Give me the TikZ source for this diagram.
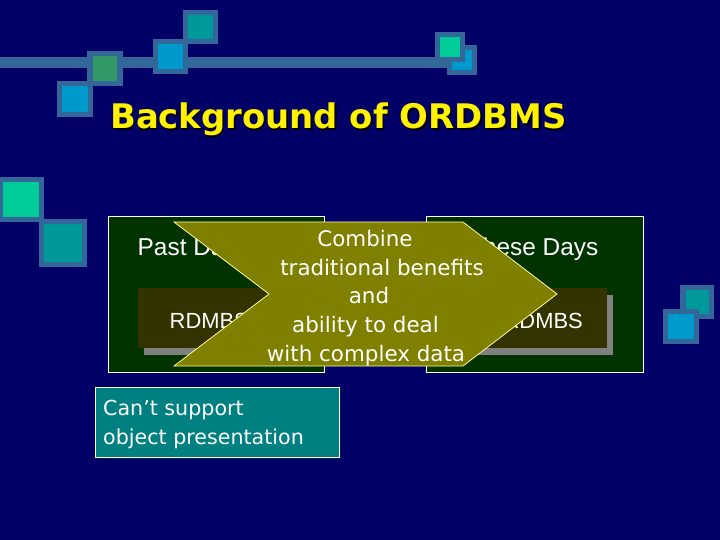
\documentclass[tikz,border=0pt]{standalone}
\usepackage{fontspec}
\setmainfont{Liberation Sans}
\newfontfamily\thinfont{DejaVu Sans}
\usepackage{tikz}
\usetikzlibrary{calc}

\definecolor{slidebg}{HTML}{000066}
\definecolor{framecol}{HTML}{336699}
\definecolor{teal1}{HTML}{009999}
\definecolor{sky1}{HTML}{0099CC}
\definecolor{leaf1}{HTML}{339966}
\definecolor{mint1}{HTML}{00CC99}
\definecolor{panelgreen}{HTML}{003300}
\definecolor{innerbrown}{HTML}{333300}
\definecolor{shadowgray}{HTML}{808080}
\definecolor{olive1}{HTML}{808000}
\definecolor{notecol}{HTML}{008080}
\definecolor{notedark}{HTML}{00254D}

\tikzset{
    panel/.style={draw=white, line width=0.8pt, fill=panelgreen},
    tag/.style={text=white, inner sep=0, font=\fontsize{22}{26}\selectfont},
    paneltag/.style={tag, font=\fontsize{24.5}{29}\selectfont},
    arrowtext/.style={text=white, inner sep=0, anchor=base, font=\thinfont\fontsize{21.5}{26}\selectfont},
    notetext/.style={text=white, inner sep=0, anchor=base west, font=\thinfont\fontsize{20.7}{25}\selectfont},
    headline/.style={inner sep=0, anchor=base west, font=\thinfont\bfseries\fontsize{34}{40}\selectfont}
}

\begin{document}
\begin{tikzpicture}[x=1bp, y=-1bp]
            \def\frameline{5.5}

            \useasboundingbox (0,0) rectangle (720,540);
            \fill[slidebg] (0,0) rectangle (720,540);

            % bar behind the squares
            \fill[framecol] (0,57) rectangle (447,68);

            % draw squares
            \foreach \cx/\cy/\s/\col in {200.5/27/35/teal1, 170.5/56.5/35/sky1, 105/68.5/35.5/leaf1, 75/99/36/sky1,
                                         462/60/30/sky1, 450/47/30/mint1, 21/199.5/46/mint1, 63/243/48/teal1,
                                         697/302/34/teal1, 681/326.5/36/sky1}
            {
                \draw[framecol, line width=\frameline pt, fill=\col]
                    (\cx-\s/2+\frameline/2, \cy-\s/2+\frameline/2) rectangle (\cx+\s/2-\frameline/2, \cy+\s/2-\frameline/2);
            }

            % title
            \node[headline, text=black] (titleshadow) at (111.5,130.5) {Background of ORDBMS};
            \node[headline, text=yellow] (title) at (110,129) {Background of ORDBMS};

            % panels
            \draw[panel] (108,216) rectangle (324,372);
            \draw[panel] (426,216) rectangle (643,372);

            \foreach \x in {138,437}
            {
                \fill[shadowgray] (\x+6,295) rectangle (\x+176,355);
                \fill[innerbrown] (\x,288) rectangle (\x+170,348);
            }

            \node[paneltag, anchor=base west] (past) at (137.5,256) {Past Days};
            \node[paneltag, anchor=base east] (these) at (598.5,256) {These Days};
            \node[tag, anchor=base west] (rdbms) at (169.5,328) {RDMBS};
            \node[tag, anchor=base east] (ordbms) at (583,328) {ORDMBS};

            % arrow
            \coordinate (P1) at (174,222);
            \coordinate (P2) at (463,222);
            \coordinate (P3) at (557,294);
            \coordinate (P4) at (463,366);
            \coordinate (P5) at (174,366);
            \coordinate (P6) at (269,294);

            \draw[fill=olive1, draw=yellow!40!white, line width=0.8pt]
                (P1) -- (P2) -- (P3) -- (P4) -- (P5) -- (P6) -- cycle;

            \foreach \i/\x/\y/\txt in {1/365/247/Combine, 2/382/276/traditional benefits, 3/369/303/and,
                                       4/365.5/332/ability to deal, 5/366/361/with complex data}
            {
                \node[arrowtext] (line\i) at (\x,\y) {\txt};
            }

            % note
            \fill[notedark] (97,389) rectangle (341,459);
            \draw[fill=notecol, draw=white, line width=0.8pt] (95,387) rectangle (339,457);
            \node[notetext] (note1) at (103,415) {Can’t support};
            \node[notetext] (note2) at (103,444) {object presentation};
        \end{tikzpicture}
\end{document}
